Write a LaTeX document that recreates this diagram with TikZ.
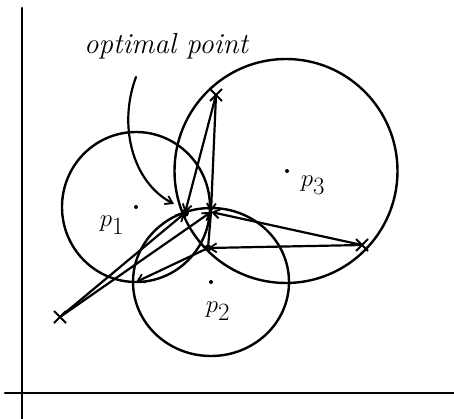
\documentclass[tikz,border=0pt]{standalone}
\usetikzlibrary{arrows.meta,shapes.geometric,shapes.misc}
\begin{document}
\begin{tikzpicture}[x=1pt,y=-1pt,
  ink/.style={line width=2.2pt,line cap=round,line join=round},
  arr/.style={ink,-{Straight Barb[length=7pt,width=9pt,line width=1.8pt]}},
  ring/.style={ellipse,draw,line width=2.4pt,inner sep=0pt},
  xmark/.style={cross out,draw,line width=2pt,minimum size=10pt,inner sep=0pt},
  dotc/.style={circle,fill,inner sep=0pt,minimum size=4pt},
  lab/.style={font=\fontsize{34}{36}\selectfont}]
\useasboundingbox (0,0) rectangle (454,419);
% axes
\coordinate (ytop) at (22,8);
\coordinate (ybot) at (22,419);
\coordinate (xl) at (5,393);
\coordinate (xr) at (454,393);
\draw[ink] (ytop) -- (ybot);
\draw[ink] (xl) -- (xr);
% circles
\node[ring,minimum width=148pt,minimum height=150pt] (c1) at (136,207) {};
\node[ring,minimum width=223pt,minimum height=224pt] (c3) at (286,171) {};
\node[ring,minimum width=156pt,minimum height=148pt] (c2) at (211,282) {};
% centres
\node[dotc] (d1) at (136,207) {};
\node[dotc] (d2) at (211,282) {};
\node[dotc] (d3) at (287,171) {};
% labels
\node[lab] (l1) at (112,225) {$p_1$};
\node[lab] (l2) at (218,311) {$p_2$};
\node[lab] (l3) at (313,185) {$p_3$};
\node[font=\fontsize{29}{31}\selectfont\itshape] (opt) at (166,46) {optimal point};
% points
\coordinate (O) at (185,213);
\coordinate (Q) at (211,212);
\coordinate (R) at (208,248);
\coordinate (S) at (136,282);
\node[xmark] (x1) at (60,317) {};
\node[xmark] (x2) at (216,95) {};
\node[xmark] (x3) at (362,245) {};
% arrows
\draw[arr] (x1.center) -- (O);
\draw[arr] (x1.center) -- (Q);
\draw[arr] (x2.center) -- (O);
\draw[arr] (x2.center) -- (Q);
\draw[arr] (x3.center) -- (Q);
\draw[arr] (x3.center) -- (R);
\draw[arr] (R) -- (S);
\draw[ink] (Q) -- (R);
\fill (O) circle (4pt);
\fill (R) circle (3.5pt);
% curved pointer
\coordinate (cs) at (136,77);
\coordinate (ce) at (174,204);
\draw[arr] (cs) .. controls (118,125) and (132,182) .. (ce);
\end{tikzpicture}
\end{document}
